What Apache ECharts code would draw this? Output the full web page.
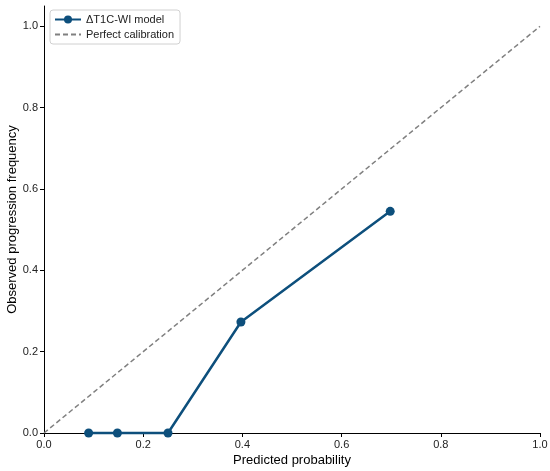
<!DOCTYPE html>
<html>
<head>
<meta charset="utf-8">
<script src="https://cdn.jsdelivr.net/npm/echarts@6/dist/echarts.min.js"></script>
<style>
  html, body { margin: 0; padding: 0; background: #fff; }
  #chart { width: 550px; height: 471px; }
</style>
</head>
<body>
<div id="chart"></div>
<script>
// calibration curve data
let predicted = [0.09, 0.148, 0.25, 0.397, 0.698];
let observed = [0.0, 0.0, 0.0, 0.273, 0.545];
let diagonal = [0, 1];
let ticks = [0, 0.2, 0.4, 0.6, 0.8, 1.0];

let blue = '#0d4f7c';
let font = 'Liberation Sans, Arial, sans-serif';

let chart = echarts.init(document.getElementById('chart'));

let axisCommon = {
  type: 'value',
  splitLine: { show: false },
  axisLine: { show: true, onZero: false, lineStyle: { color: '#000', width: 1 } },
  axisTick: { show: true, length: 4, lineStyle: { color: '#000' }, customValues: ticks },
  axisLabel: {
    color: '#222', fontSize: 11, fontFamily: font, margin: 6,
    customValues: ticks,
    formatter: v => v.toFixed(1)
  },
  nameLocation: 'middle',
  nameMoveOverlap: false,
  nameTextStyle: { color: '#000', fontSize: 13, fontFamily: font }
};

chart.setOption({
  animation: false,
  textStyle: { fontFamily: font },
  grid: { left: 44, right: 10, top: 6, bottom: 38, containLabel: false, outerBoundsMode: 'none' },
  legend: {
    orient: 'vertical',
    left: 50, top: 10,
    itemWidth: 26, itemHeight: 10, itemGap: 4,
    padding: [4, 6, 4, 4],
    borderColor: '#d0d0d0', borderWidth: 1, borderRadius: 3,
    textStyle: { fontSize: 11, color: '#222', fontFamily: font },
    data: [
      { name: 'ΔT1C-WI model' },
      { name: 'Perfect calibration', itemStyle: { opacity: 0 } }
    ]
  },
  xAxis: Object.assign({}, axisCommon, {
    min: 0, max: 1,
    name: 'Predicted probability', nameGap: 21
  }),
  yAxis: Object.assign({}, axisCommon, {
    min: 0, max: 1.05,
    name: 'Observed progression frequency', nameGap: 25
  }),
  series: [
    {
      name: 'ΔT1C-WI model',
      type: 'line',
      data: predicted.map((x, i) => [x, observed[i]]),
      symbol: 'circle', symbolSize: 9,
      lineStyle: { color: blue, width: 2.5 },
      itemStyle: { color: blue },
      clip: false,
      z: 3
    },
    {
      name: 'Perfect calibration',
      type: 'line',
      data: diagonal.map(v => [v, v]),
      symbol: 'none',
      lineStyle: { color: '#808080', width: 1.5, type: [5, 3] },
      itemStyle: { color: '#808080' },
      z: 2
    }
  ]
});

window.onresize = () => chart.resize();
</script>
</body>
</html>
